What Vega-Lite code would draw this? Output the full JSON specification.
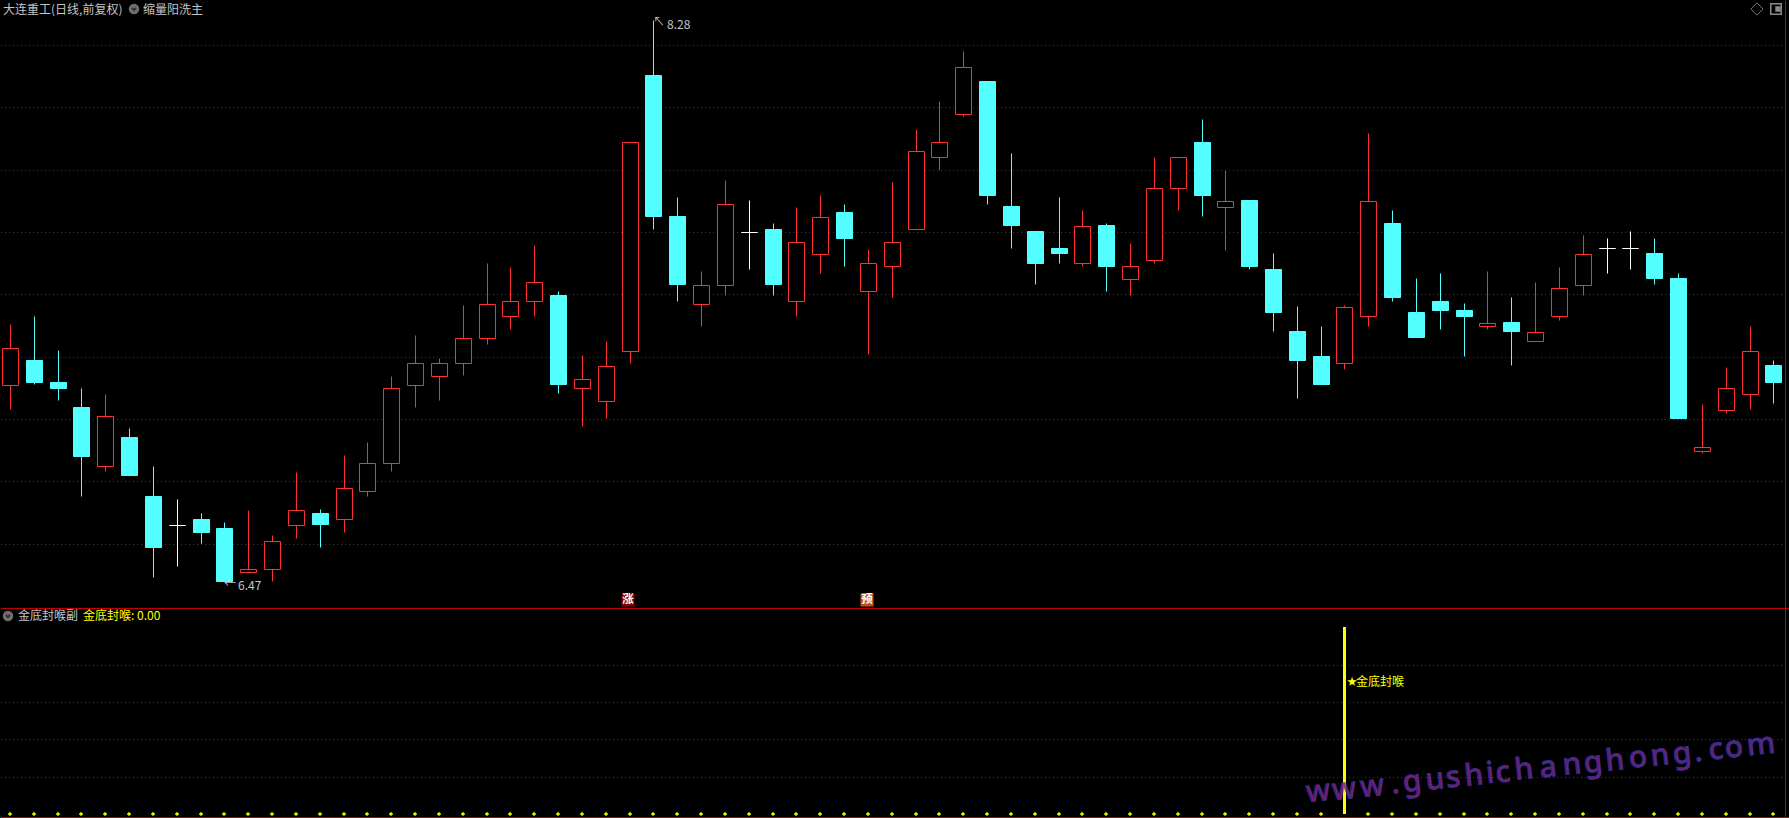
{"$schema":"https://vega.github.io/schema/vega-lite/v6.json","background":"#000000","padding":0,"spacing":0,"bounds":"flush","config":{"view":{"stroke":null},"text":{"font":"Noto Sans CJK SC"},"concat":{"spacing":0}},
"datasets":{
"candles":[
{"i":0,"dir":"up","open":7.109,"close":7.229,"high":7.306,"low":7.031},
{"i":1,"dir":"down","open":7.191,"close":7.120,"high":7.332,"low":7.111},
{"i":2,"dir":"down","open":7.120,"close":7.101,"high":7.220,"low":7.060},
{"i":3,"dir":"down","open":7.040,"close":6.880,"high":7.101,"low":6.752},
{"i":4,"dir":"up","open":6.848,"close":7.010,"high":7.079,"low":6.832},
{"i":5,"dir":"down","open":6.941,"close":6.819,"high":6.970,"low":6.819},
{"i":6,"dir":"down","open":6.752,"close":6.591,"high":6.851,"low":6.492},
{"i":7,"dir":"flat","open":6.661,"close":6.661,"high":6.742,"low":6.530},
{"i":8,"dir":"down","open":6.681,"close":6.639,"high":6.700,"low":6.601},
{"i":9,"dir":"down","open":6.649,"close":6.479,"high":6.671,"low":6.479},
{"i":10,"dir":"up","open":6.509,"close":6.520,"high":6.707,"low":6.509},
{"i":11,"dir":"up","open":6.519,"close":6.610,"high":6.627,"low":6.479},
{"i":12,"dir":"up","open":6.660,"close":6.709,"high":6.829,"low":6.620},
{"i":13,"dir":"down","open":6.700,"close":6.662,"high":6.710,"low":6.591},
{"i":14,"dir":"up","open":6.679,"close":6.780,"high":6.886,"low":6.639},
{"i":15,"dir":"up","open":6.769,"close":6.860,"high":6.928,"low":6.752},
{"i":16,"dir":"up","open":6.858,"close":7.100,"high":7.137,"low":6.832},
{"i":17,"dir":"up","open":7.109,"close":7.180,"high":7.268,"low":7.040},
{"i":18,"dir":"up","open":7.137,"close":7.180,"high":7.197,"low":7.060},
{"i":19,"dir":"up","open":7.179,"close":7.261,"high":7.367,"low":7.140},
{"i":20,"dir":"up","open":7.259,"close":7.370,"high":7.499,"low":7.242},
{"i":21,"dir":"up","open":7.330,"close":7.379,"high":7.489,"low":7.290},
{"i":22,"dir":"up","open":7.378,"close":7.440,"high":7.557,"low":7.332},
{"i":23,"dir":"down","open":7.399,"close":7.111,"high":7.412,"low":7.082},
{"i":24,"dir":"up","open":7.099,"close":7.129,"high":7.207,"low":6.979},
{"i":25,"dir":"up","open":7.057,"close":7.171,"high":7.249,"low":7.002},
{"i":26,"dir":"up","open":7.218,"close":7.889,"high":7.889,"low":7.181},
{"i":27,"dir":"down","open":8.102,"close":7.650,"high":8.281,"low":7.611},
{"i":28,"dir":"down","open":7.650,"close":7.432,"high":7.711,"low":7.380},
{"i":29,"dir":"up","open":7.368,"close":7.431,"high":7.476,"low":7.300},
{"i":30,"dir":"up","open":7.430,"close":7.690,"high":7.768,"low":7.399},
{"i":31,"dir":"flat","open":7.601,"close":7.601,"high":7.701,"low":7.480},
{"i":32,"dir":"down","open":7.611,"close":7.432,"high":7.630,"low":7.399},
{"i":33,"dir":"up","open":7.378,"close":7.569,"high":7.679,"low":7.332},
{"i":34,"dir":"up","open":7.529,"close":7.649,"high":7.717,"low":7.470},
{"i":35,"dir":"down","open":7.663,"close":7.582,"high":7.691,"low":7.492},
{"i":36,"dir":"up","open":7.410,"close":7.501,"high":7.547,"low":7.210},
{"i":37,"dir":"up","open":7.490,"close":7.569,"high":7.759,"low":7.390},
{"i":38,"dir":"up","open":7.609,"close":7.860,"high":7.929,"low":7.609},
{"i":39,"dir":"up","open":7.840,"close":7.889,"high":8.019,"low":7.800},
{"i":40,"dir":"up","open":7.978,"close":8.130,"high":8.179,"low":7.971},
{"i":41,"dir":"down","open":8.083,"close":7.720,"high":8.083,"low":7.691},
{"i":42,"dir":"down","open":7.682,"close":7.621,"high":7.852,"low":7.550},
{"i":43,"dir":"down","open":7.602,"close":7.502,"high":7.602,"low":7.432},
{"i":44,"dir":"down","open":7.550,"close":7.531,"high":7.711,"low":7.502},
{"i":45,"dir":"up","open":7.500,"close":7.620,"high":7.669,"low":7.492},
{"i":46,"dir":"down","open":7.621,"close":7.492,"high":7.630,"low":7.412},
{"i":47,"dir":"up","open":7.449,"close":7.491,"high":7.566,"low":7.399},
{"i":48,"dir":"up","open":7.509,"close":7.742,"high":7.839,"low":7.502},
{"i":49,"dir":"up","open":7.740,"close":7.841,"high":7.841,"low":7.672},
{"i":50,"dir":"down","open":7.890,"close":7.720,"high":7.961,"low":7.650},
{"i":51,"dir":"up","open":7.680,"close":7.700,"high":7.798,"low":7.541},
{"i":52,"dir":"down","open":7.701,"close":7.492,"high":7.701,"low":7.480},
{"i":53,"dir":"down","open":7.480,"close":7.342,"high":7.531,"low":7.281},
{"i":54,"dir":"down","open":7.281,"close":7.191,"high":7.361,"low":7.069},
{"i":55,"dir":"down","open":7.201,"close":7.111,"high":7.300,"low":7.111},
{"i":56,"dir":"up","open":7.179,"close":7.360,"high":7.367,"low":7.162},
{"i":57,"dir":"up","open":7.330,"close":7.700,"high":7.919,"low":7.300},
{"i":58,"dir":"down","open":7.630,"close":7.390,"high":7.672,"low":7.380},
{"i":59,"dir":"down","open":7.342,"close":7.262,"high":7.451,"low":7.262},
{"i":60,"dir":"down","open":7.380,"close":7.351,"high":7.470,"low":7.290},
{"i":61,"dir":"down","open":7.351,"close":7.332,"high":7.371,"low":7.201},
{"i":62,"dir":"up","open":7.298,"close":7.309,"high":7.476,"low":7.290},
{"i":63,"dir":"down","open":7.310,"close":7.281,"high":7.390,"low":7.172},
{"i":64,"dir":"up","open":7.250,"close":7.280,"high":7.438,"low":7.250},
{"i":65,"dir":"up","open":7.330,"close":7.421,"high":7.489,"low":7.319},
{"i":66,"dir":"up","open":7.430,"close":7.530,"high":7.589,"low":7.399},
{"i":67,"dir":"flat","open":7.549,"close":7.549,"high":7.582,"low":7.470},
{"i":68,"dir":"flat","open":7.549,"close":7.549,"high":7.602,"low":7.480},
{"i":69,"dir":"down","open":7.531,"close":7.451,"high":7.582,"low":7.432},
{"i":70,"dir":"down","open":7.451,"close":7.002,"high":7.470,"low":7.002},
{"i":71,"dir":"up","open":6.897,"close":6.911,"high":7.047,"low":6.890},
{"i":72,"dir":"up","open":7.028,"close":7.100,"high":7.168,"low":7.021},
{"i":73,"dir":"up","open":7.080,"close":7.219,"high":7.297,"low":7.031},
{"i":74,"dir":"down","open":7.172,"close":7.120,"high":7.191,"low":7.050}
],
"priceGrid":[{"level":8.2},{"level":8.0},{"level":7.8},{"level":7.6},{"level":7.4},{"level":7.2},{"level":7.0},{"level":6.8},{"level":6.6}],
"signalGrid":[{"level":0.8},{"level":0.6},{"level":0.4},{"level":0.2}],
"topTexts":[
{"label":"大连重工(日线,前复权)","i":-0.273,"p":8.311},
{"label":"缩量阳洗主","i":5.6,"p":8.311},
{"label":"8.28","i":27.55,"p":8.263},
{"label":"↖","i":27.0,"p":8.272},
{"label":"←","i":8.99,"p":6.4695},
{"label":"6.47","i":9.56,"p":6.466}
],
"tags":[{"label":"涨","i":25.95,"p":6.421,"tag":"rise"},{"label":"预","i":35.95,"p":6.421,"tag":"warn"}],
"icons":[{"i":5.22,"p":8.315}],
"bottomTexts":[
{"label":"金底封喉副","i":0.356,"v":1.0584,"tone":"gray"},
{"label":"金底封喉: 0.00","i":3.08,"v":1.0584,"tone":"yellow"},
{"label":"金底封喉","i":56.48,"v":0.707,"tone":"yellow"}
],
"signal":[
{"i":0,"v":0},{"i":1,"v":0},{"i":2,"v":0},{"i":3,"v":0},{"i":4,"v":0},{"i":5,"v":0},{"i":6,"v":0},{"i":7,"v":0},{"i":8,"v":0},{"i":9,"v":0},
{"i":10,"v":0},{"i":11,"v":0},{"i":12,"v":0},{"i":13,"v":0},{"i":14,"v":0},{"i":15,"v":0},{"i":16,"v":0},{"i":17,"v":0},{"i":18,"v":0},{"i":19,"v":0},
{"i":20,"v":0},{"i":21,"v":0},{"i":22,"v":0},{"i":23,"v":0},{"i":24,"v":0},{"i":25,"v":0},{"i":26,"v":0},{"i":27,"v":0},{"i":28,"v":0},{"i":29,"v":0},
{"i":30,"v":0},{"i":31,"v":0},{"i":32,"v":0},{"i":33,"v":0},{"i":34,"v":0},{"i":35,"v":0},{"i":36,"v":0},{"i":37,"v":0},{"i":38,"v":0},{"i":39,"v":0},
{"i":40,"v":0},{"i":41,"v":0},{"i":42,"v":0},{"i":43,"v":0},{"i":44,"v":0},{"i":45,"v":0},{"i":46,"v":0},{"i":47,"v":0},{"i":48,"v":0},{"i":49,"v":0},
{"i":50,"v":0},{"i":51,"v":0},{"i":52,"v":0},{"i":53,"v":0},{"i":54,"v":0},{"i":55,"v":0},{"i":56,"v":1},{"i":57,"v":0},{"i":58,"v":0},{"i":59,"v":0},
{"i":60,"v":0},{"i":61,"v":0},{"i":62,"v":0},{"i":63,"v":0},{"i":64,"v":0},{"i":65,"v":0},{"i":66,"v":0},{"i":67,"v":0},{"i":68,"v":0},{"i":69,"v":0},
{"i":70,"v":0},{"i":71,"v":0},{"i":72,"v":0},{"i":73,"v":0},{"i":74,"v":0}
],
"watermark":[
{"ch":"w","i":54.9,"v":0.1147},{"ch":"w","i":56.0,"v":0.1298},{"ch":"w","i":57.15,"v":0.1453},{"ch":".","i":58.1,"v":0.1587},
{"ch":"g","i":58.85,"v":0.1684},{"ch":"u","i":59.78,"v":0.1812},{"ch":"s","i":60.55,"v":0.1920},{"ch":"h","i":61.42,"v":0.2038},
{"ch":"i","i":62.12,"v":0.2134},{"ch":"c","i":62.67,"v":0.2209},{"ch":"h","i":63.55,"v":0.2327},{"ch":"a","i":64.55,"v":0.2466},
{"ch":"n","i":65.56,"v":0.2601},{"ch":"g","i":66.44,"v":0.2718},{"ch":"h","i":67.36,"v":0.2847},{"ch":"o","i":68.30,"v":0.2971},
{"ch":"n","i":69.24,"v":0.3099},{"ch":"g","i":70.17,"v":0.3228},{"ch":".","i":70.82,"v":0.3314},{"ch":"c","i":71.61,"v":0.3421},
{"ch":"o","i":72.36,"v":0.3523},{"ch":"m","i":73.48,"v":0.3673}
]
},
"vconcat":[
{"width":1789,"height":608,
"encoding":{
"x":{"field":"i","type":"quantitative","axis":null,"scale":{"domain":[-0.3777,74.695],"nice":false,"zero":false,"round":true,"padding":0}}
},
"layer":[
{"data":{"name":"priceGrid"},"mark":{"type":"rule","color":"#c00000","strokeWidth":1,"strokeDash":[1,3],"yOffset":0.5},"encoding":{"x":null,"y":{"field":"level","type":"quantitative","axis":null,"scale":{"domain":[6.3908,8.3408],"nice":false,"zero":false,"round":true,"padding":0}}}},
{"data":{"name":"candles"},"mark":{"type":"rule","strokeWidth":1,"xOffset":0.5,"yOffset":0.5,"y2Offset":0.5},"encoding":{"y":{"field":"low","type":"quantitative","axis":null},"y2":{"field":"high"},"color":{"field":"dir","type":"nominal","legend":null,"scale":{"domain":["up","down","flat"],"range":["#ff3232","#54ffff","#ffffff"]}}}},
{"data":{"name":"candles"},"mark":{"type":"bar","orient":"vertical","size":16,"strokeWidth":1,"xOffset":0.5,"yOffset":0.5,"y2Offset":0.5},"encoding":{"y":{"field":"open","type":"quantitative","axis":null},"y2":{"field":"close"},"fill":{"field":"dir","type":"nominal","legend":null,"scale":{"domain":["up","down","flat"],"range":["#000000","#54ffff","#ffffff"]}},"stroke":{"field":"dir","type":"nominal","legend":null,"scale":{"domain":["up","down","flat"],"range":["#ff3232","#54ffff","#ffffff"]}}}},
{"data":{"values":[{"edge":6.3956}]},"mark":{"type":"rule","color":"#c00000","strokeWidth":1,"yOffset":0.5},"encoding":{"x":null,"y":{"field":"edge","type":"quantitative","axis":null}}},
{"data":{"values":[{"i":74.5}]},"mark":{"type":"rule","color":"#c80000","strokeWidth":1,"xOffset":0.5},"encoding":{}},
{"data":{"name":"topTexts"},"mark":{"type":"text","align":"left","baseline":"middle","fontSize":12,"color":"#c4c4c4"},"encoding":{"y":{"field":"p","type":"quantitative","axis":null},"text":{"field":"label"}}},
{"data":{"name":"icons"},"mark":{"type":"point","shape":"circle","size":110,"filled":true,"color":"#6e6e6e","opacity":1},"encoding":{"y":{"field":"p","type":"quantitative","axis":null}}},
{"data":{"name":"icons"},"mark":{"type":"point","shape":"M-1,-0.6L0,0.6L1,-0.6","size":14,"filled":false,"color":"#202020","strokeWidth":1.5,"opacity":1},"encoding":{"y":{"field":"p","type":"quantitative","axis":null}}},
{"data":{"values":[{"i":73.3,"p":8.315}]},"mark":{"type":"point","shape":"diamond","size":150,"filled":false,"color":"#7a7a7a","strokeWidth":1,"opacity":1},"encoding":{"y":{"field":"p","type":"quantitative","axis":null}}},
{"data":{"values":[{"i":74.1,"p":8.3165}]},"mark":{"type":"point","shape":"square","size":110,"filled":false,"color":"#8a8a8a","strokeWidth":1.5,"opacity":1},"encoding":{"y":{"field":"p","type":"quantitative","axis":null}}},
{"data":{"values":[{"i":74.2,"p":8.3165}]},"mark":{"type":"point","shape":"square","size":30,"filled":true,"color":"#8a8a8a","opacity":1},"encoding":{"y":{"field":"p","type":"quantitative","axis":null}}},
{"data":{"name":"tags"},"mark":{"type":"point","shape":"square","size":169,"filled":true,"opacity":1},"encoding":{"y":{"field":"p","type":"quantitative","axis":null},"color":{"field":"tag","type":"nominal","legend":null,"scale":{"domain":["rise","warn"],"range":["#8a0000","#c4500f"]}}}},
{"data":{"name":"tags"},"mark":{"type":"text","align":"center","baseline":"middle","fontSize":11.5,"fontWeight":"bold","color":"#ffffff"},"encoding":{"y":{"field":"p","type":"quantitative","axis":null},"text":{"field":"label"}}}
],
"resolve":{"scale":{"color":"independent"}}
},
{"width":1789,"height":210,
"encoding":{
"x":{"field":"i","type":"quantitative","axis":null,"scale":{"domain":[-0.3777,74.695],"nice":false,"zero":false,"round":true,"padding":0}}
},
"layer":[
{"data":{"name":"signalGrid"},"mark":{"type":"rule","color":"#c00000","strokeWidth":1,"strokeDash":[1,3],"yOffset":0.5},"encoding":{"x":null,"y":{"field":"level","type":"quantitative","axis":null,"scale":{"domain":[-0.0274,1.0986],"nice":false,"zero":false,"round":true,"padding":0}}}},
{"data":{"name":"signal"},"transform":[{"filter":"datum.v > 0"}],"mark":{"type":"rule","color":"#ffff00","strokeWidth":3,"xOffset":0.5},"encoding":{"y":{"field":"v","type":"quantitative","axis":null},"y2":{"datum":0}}},
{"data":{"name":"signal"},"transform":[{"filter":"datum.v === 0"}],"mark":{"type":"point","shape":"cross","size":14,"filled":true,"color":"#ffff00","opacity":1},"encoding":{"y":{"field":"v","type":"quantitative","axis":null}}},
{"data":{"name":"watermark"},"mark":{"type":"text","align":"center","baseline":"middle","font":"Noto Sans","fontSize":30,"fontWeight":500,"angle":354,"stroke":"#3a3aa8","strokeWidth":0.8,"opacity":0.85},"encoding":{"y":{"field":"v","type":"quantitative","axis":null},"text":{"field":"ch"},"color":{"field":"i","type":"quantitative","legend":null,"scale":{"domain":[54,74],"range":["#8c1f80","#6a2a9a"]}}}},
{"data":{"name":"bottomTexts"},"mark":{"type":"text","align":"left","baseline":"middle","fontSize":12},"encoding":{"y":{"field":"v","type":"quantitative","axis":null},"text":{"field":"label"},"color":{"field":"tone","type":"nominal","legend":null,"scale":{"domain":["gray","yellow"],"range":["#c4c4c4","#ffff00"]}}}},
{"data":{"values":[{"label":"★","i":56.10,"v":0.707}]},"mark":{"type":"text","align":"left","baseline":"middle","fontSize":10,"color":"#ffff00"},"encoding":{"y":{"field":"v","type":"quantitative","axis":null},"text":{"field":"label"}}},
{"data":{"values":[{"i":-0.063,"v":1.0584}]},"mark":{"type":"point","shape":"circle","size":110,"filled":true,"color":"#6e6e6e","opacity":1},"encoding":{"y":{"field":"v","type":"quantitative","axis":null}}},
{"data":{"values":[{"i":-0.063,"v":1.0584}]},"mark":{"type":"point","shape":"M-1,-0.6L0,0.6L1,-0.6","size":14,"filled":false,"color":"#202020","strokeWidth":1.5,"opacity":1},"encoding":{"y":{"field":"v","type":"quantitative","axis":null}}},
{"data":{"values":[{"edge":-0.0193}]},"mark":{"type":"rule","color":"#c00000","strokeWidth":1,"yOffset":0.5},"encoding":{"x":null,"y":{"field":"edge","type":"quantitative","axis":null}}},
{"data":{"values":[{"i":74.5}]},"mark":{"type":"rule","color":"#c80000","strokeWidth":1,"xOffset":0.5},"encoding":{}}
],
"resolve":{"scale":{"color":"independent"}}
}
]}
